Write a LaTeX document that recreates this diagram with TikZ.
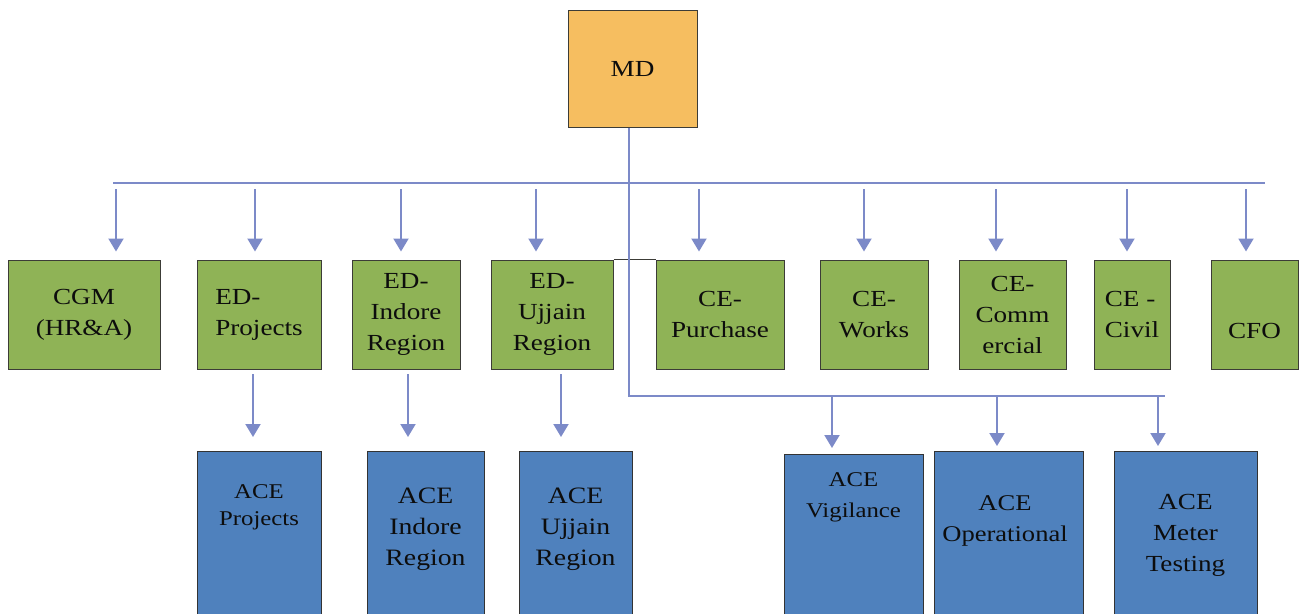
\documentclass[tikz,border=0pt]{standalone}
\usepackage{fontspec}
\setmainfont{Liberation Serif}[FakeStretch=1.18]
\usetikzlibrary{arrows.meta}
\definecolor{gfill}{RGB}{143,179,86}
\definecolor{bfill}{RGB}{79,129,189}
\definecolor{ofill}{RGB}{246,190,96}
\definecolor{conn}{RGB}{124,138,200}
\definecolor{edgec}{RGB}{60,60,55}
\begin{document}
\begin{tikzpicture}[x=1pt,y=-1pt,
  box/.style={draw=edgec, line width=1pt, inner sep=0pt, align=center, text=black!95},
  gbox/.style={box, fill=gfill, minimum height=109pt, font=\fontsize{23}{31}\selectfont},
  bluebox/.style={box, fill=bfill, minimum height=220pt, anchor=north, draw=black!80},
  btext/.style={align=center, inner sep=0pt, text=black!95},
  gtext/.style={align=center, inner sep=0pt, text=black!95, font=\fontsize{23}{31}\selectfont},
  bus/.style={draw=conn, line width=1.5pt},
  thinbus/.style={draw=conn, line width=1.2pt},
  arr/.style={draw=conn, line width=2pt, -{Triangle[width=15pt,length=13pt]}},
]
\useasboundingbox (0,0) rectangle (1303,613);
\clip (0,0) rectangle (1303,613);

% top
\node[box, fill=ofill, minimum width=129pt, minimum height=117pt, font=\fontsize{23}{31}\selectfont] (md) at (632.5,68.5) {MD};

% green row
\node[gbox, minimum width=152pt] (cgm) at (84,314.5) {CGM\\(HR\&A)};
\node[gbox, minimum width=124pt, align=left] (edp) at (259,314.5) {ED-\\Projects};
\node[gbox, minimum width=108pt] (edi) at (406,314.5) {ED-\\Indore\\Region};
\node[gbox, minimum width=122pt] (edu) at (552,314.5) {ED-\\Ujjain\\Region};
\node[gbox, minimum width=128pt] (cep) at (720,314.5) {CE-\\Purchase};
\node[gbox, minimum width=108pt] (cew) at (874,314.5) {CE-\\Works};
\node[gbox, minimum width=107pt] (cec) at (1012.5,314.5) {CE-\\Comm\\ercial};
\node[gbox, minimum width=76pt, align=left] (cev) at (1132,314.5) {CE -\\Civil};
\node[gbox, minimum width=87pt] (cfo) at (1254.5,314.5) {};
\node[gtext] (cfot) at (1254.5,331) {CFO};

% blue row
\node[bluebox, minimum width=124pt] (acep) at (259,451) {};
\node[bluebox, minimum width=117pt] (acei) at (425.5,451) {};
\node[bluebox, minimum width=113pt] (aceu) at (575.5,451) {};
\node[bluebox, minimum width=139pt] (acev) at (853.5,454) {};
\node[bluebox, minimum width=149pt] (aceo) at (1008.5,451) {};
\node[bluebox, minimum width=143pt] (acem) at (1185.5,451) {};

\node[btext, font=\fontsize{21}{27}\selectfont] (acept) at (259,507.5) {ACE\\Projects};
\node[btext, font=\fontsize{23.5}{31}\selectfont] (aceit) at (425.5,529) {ACE\\Indore\\Region};
\node[btext, font=\fontsize{23.5}{31}\selectfont] (aceut) at (575.5,529) {ACE\\Ujjain\\Region};
\node[btext, font=\fontsize{21}{31}\selectfont] (acevt) at (853.5,497) {ACE\\Vigilance};
\node[btext, font=\fontsize{22.5}{31}\selectfont] (aceot) at (1005,520.5) {ACE\\Operational};
\node[btext, font=\fontsize{23}{31}\selectfont] (acemt) at (1185.5,535) {ACE\\Meter\\Testing};

% dark joining line between green boxes
\draw[draw=edgec, line width=1pt] (edu.north east) -- (cep.north west);

% buses
\coordinate (tb1) at (113,183);
\coordinate (tb2) at (1265,183);
\draw[bus] (tb1) -- (tb2);
\coordinate (jn) at (629,396);
\coordinate (lbend) at (1165,396);
\draw[thinbus] (md.south -| jn) -- (jn) -- (lbend);

% arrows from top bus
\foreach \x/\n in {116/cgm,255/edp,401/edi,536/edu,699/cep,864/cew,996/cec,1127/cev,1246/cfo}{
  \coordinate (t\n) at (\x,189);
  \draw[arr, shorten >=8pt] (t\n) -- (t\n |- \n.north);
}
% arrows green -> blue
\foreach \x/\n/\m in {253/edp/acep,408/edi/acei,561/edu/aceu}{
  \coordinate (s\n) at (\x,374);
  \draw[arr, shorten >=14pt] (s\n) -- (s\n |- \m.north);
}
% arrows lower bus -> blue
\foreach \x/\m/\s in {832/acev/6,997/aceo/5,1158/acem/5}{
  \coordinate (l\m) at (\x,396);
  \draw[arr, shorten >=\s pt] (l\m) -- (l\m |- \m.north);
}
\end{tikzpicture}
\end{document}
